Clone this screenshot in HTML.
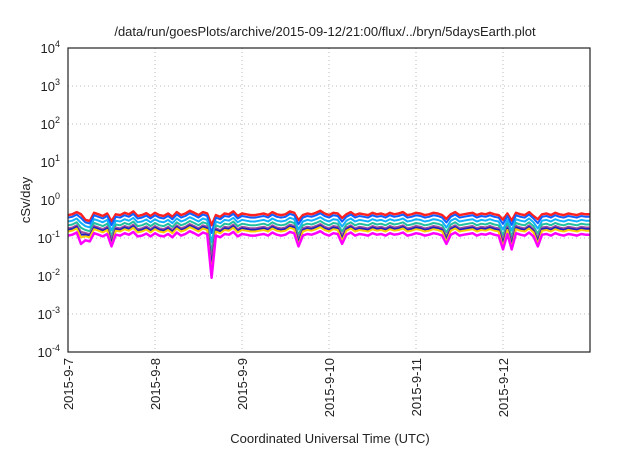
<!DOCTYPE html>
<html><head><meta charset="utf-8"><style>
body{margin:0;background:#fff;font-family:"Liberation Sans",sans-serif}
svg text{font-family:"Liberation Sans",sans-serif;fill:#222}
</style></head><body>
<svg id="c" width="640" height="448">
<text x="325" y="36" font-size="13" text-anchor="middle">/data/run/goesPlots/archive/2015-09-12/21:00/flux/../bryn/5daysEarth.plot</text>
<text x="30" y="200" font-size="13" text-anchor="middle" transform="rotate(-90 30 200)">cSv/day</text>
<text x="330" y="443" font-size="13" text-anchor="middle">Coordinated Universal Time (UTC)</text>
<g id="grid"></g><g id="series"></g><g id="axes"></g>
</svg>
<script>
const yTickExps=[4,3,2,1,0,-1,-2,-3,-4];
const xTickLabels=["2015-9-7","2015-9-8","2015-9-9","2015-9-10","2015-9-11","2015-9-12"];
const topSeries=[0.40,0.42,0.48,0.45,0.30,0.28,0.46,0.42,0.38,0.44,0.30,0.42,0.40,0.46,0.42,0.50,0.38,0.40,0.45,0.38,
0.46,0.40,0.38,0.44,0.36,0.48,0.40,0.44,0.52,0.46,0.40,0.48,0.44,0.30,0.40,0.36,0.44,0.42,0.50,0.38,
0.44,0.42,0.40,0.40,0.42,0.44,0.40,0.48,0.42,0.40,0.42,0.50,0.46,0.32,0.40,0.44,0.42,0.46,0.52,0.44,
0.40,0.46,0.44,0.36,0.42,0.48,0.40,0.44,0.42,0.40,0.46,0.42,0.44,0.40,0.46,0.42,0.44,0.48,0.40,0.42,
0.46,0.44,0.40,0.42,0.46,0.44,0.40,0.34,0.42,0.48,0.40,0.42,0.44,0.46,0.40,0.44,0.42,0.46,0.42,0.40,
0.34,0.44,0.32,0.46,0.42,0.40,0.48,0.38,0.34,0.42,0.44,0.40,0.46,0.42,0.40,0.44,0.42,0.40,0.44,0.42];
const seriesColors=["#ff2020","#1060ff","#10b0ff","#20c0a0","#a050a0","#2020c0","#ffd000","#ff00ff"];
const seriesScales=[1.0,0.86,0.68,0.54,0.45,0.41,0.37,0.29];
const dipIdx=[3,10,33,53,63,87,100,102,108];
const dipVals=[0.07,0.06,0.009,0.06,0.07,0.07,0.05,0.05,0.06];
const L=68,R=590,T=48,B=352,days=6;
const yS=v=>T+(4-Math.log10(v))*(B-T)/8;
const xS=i=>L+i/(topSeries.length)*(R-L);
const ns="http://www.w3.org/2000/svg";
function mk(t,a,p){const e=document.createElementNS(ns,t);for(const k in a)e.setAttribute(k,a[k]);p.appendChild(e);return e;}
const grid=document.getElementById('grid'),axes=document.getElementById('axes'),ser=document.getElementById('series');
yTickExps.forEach(e=>{const y=yS(Math.pow(10,e));
 if(e<4&&e>-4){const g=mk('line',{x1:L,x2:R,y1:y,y2:y,stroke:'#bbb','stroke-dasharray':'1,3'},grid);
 }
 const t=mk('text',{x:L-8,y:y+5,'font-size':13,'text-anchor':'end'},axes);
 
 t.textContent='10';const s=mk('tspan',{dy:-6,'font-size':9},t);s.textContent=e;});
xTickLabels.forEach((l,i)=>{const x=L+i*(R-L)/days;
 if(i>0){const g=mk('line',{x1:x,x2:x,y1:T,y2:B,stroke:'#bbb','stroke-dasharray':'1,3'},grid);
 }
 const t=mk('text',{x:x+5,y:B+6,'font-size':13,'text-anchor':'end',transform:`rotate(-90 ${x+5} ${B+6})`},axes);
 t.textContent=l;});
seriesColors.forEach((c,si)=>{
 const pts=topSeries.map((v,i)=>{let val=v*seriesScales[si];
  const d=dipIdx.indexOf(i);if(d>=0){const f=Math.pow(dipVals[d]/(0.12),(si+1)/8);val=Math.min(val,val*f);if(si==7)val=dipVals[d];}
  return xS(i).toFixed(1)+','+yS(val).toFixed(1);});
 pts.push(R+','+yS(topSeries[topSeries.length-1]*seriesScales[si]).toFixed(1));
 const p=mk('polyline',{points:pts.join(' '),fill:'none',stroke:c,'stroke-width':si==0||si==7?2.5:2,'stroke-linejoin':'round'},ser);
 });
const f=mk('rect',{x:L,y:T,width:R-L,height:B-T,fill:'none',stroke:'#222','stroke-width':1.2},axes);

</script>
</body></html>
